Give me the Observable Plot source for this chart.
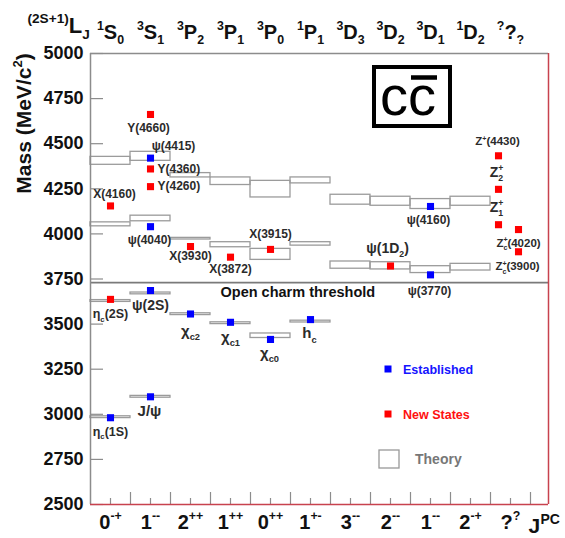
<!DOCTYPE html>
<html><head><meta charset="utf-8">
<script src="https://cdn.jsdelivr.net/npm/d3@7"></script>
<script src="https://cdn.jsdelivr.net/npm/@observablehq/plot@0.6"></script>
<style>
html,body{margin:0;padding:0;background:#fff;overflow:hidden}
</style>
</head><body><div id="chart"></div>
<script>
// ---------- data ----------
const waveLabels = ["^{1}S_{0}","^{3}S_{1}","^{3}P_{2}","^{3}P_{1}","^{3}P_{0}","^{1}P_{1}","^{3}D_{3}","^{3}D_{2}","^{3}D_{1}","^{1}D_{2}","^{?}?_{?}"];
const jpcLabels = ["0^{-+}","1^{--}","2^{++}","1^{++}","0^{++}","1^{+-}","3^{--}","2^{--}","1^{--}","2^{-+}","?^{?}"];
const massTicks = [2500,2750,3000,3250,3500,3750,4000,4250,4500,4750,5000];
const majorTicks = [1,2,3,4,5,6,7,8,9,10,11];
const minorTicks = [0.5,1.5,2.5,3.5,4.5,5.5,6.5,7.5,8.5,9.5,10.5];
const massMin = 2500, massMax = 5000, xMax = 11.45;
const openCharmThreshold = 3730;

const stateNames = ["η_{c}(1S)","η_{c}(2S)","X(4160)","J/ψ","ψ(2S)","ψ(4040)","Y(4260)","Y(4360)","ψ(4415)","Y(4660)","χ_{c2}","X(3930)","χ_{c1}","X(3872)","χ_{c0}","X(3915)","h_{c}","ψ(1D_{2})","ψ(3770)","ψ(4160)","Z^{+}(4430)","Z^{+}_{2}","Z^{+}_{1}","Z^{+}_{c}(4020)","Z^{+}_{c}(3900)"];
const statePos = [0.5,0.5,0.5,1.5,1.5,1.5,1.5,1.5,1.5,1.5,2.5,2.5,3.5,3.5,4.5,4.5,5.5,7.5,8.5,8.5,10.2,10.2,10.2,10.7,10.7];
const stateMass = [2981,3637,4155,3097,3686,4040,4262,4360,4420,4662,3556,3930,3510,3871,3415,3914,3525,3822,3773,4152,4433,4247,4051,4024,3901];
const stateStatus = ["est","new","new","est","est","est","new","new","est","new","est","new","est","new","est","new","est","new","est","est","new","new","new","new","new"];

const theoryCol = [0,0,0,0, 1,1,1,1, 2,2,2, 3,3,3, 4,4,4, 5,5,5, 6,6, 7,7, 8,8, 9,9];
const theoryLo  = [2979,3623,4042,4383, 3092,3665,4070,4405, 3550,3969,4313, 3500,3926,4271, 3423,3856,4202, 3509,3935,4280, 3807,4162, 3803,4156, 3783,4138, 3797,4156];
const theoryHi  = [2989,3633,4064,4427, 3102,3675,4101,4455, 3560,3978,4337, 3510,3954,4313, 3448,3917,4294, 3519,3954,4313, 3847,4217, 3843,4206, 3821,4193, 3834,4206];

// ---------- layout (label offsets in px) ----------
const labelLayout = [
  {dx:0,dy:14,fs:12.5},{dx:0,dy:15,fs:12.5},{dx:4,dy:-12,fs:12},{dx:-1,dy:14,fs:15},{dx:0,dy:15,fs:14},
  {dx:-1,dy:13,fs:12},{dx:7,dy:0,fs:12,a:"start"},{dx:7,dy:0,fs:12,a:"start"},{dx:23,dy:-12,fs:12},{dx:-2,dy:14,fs:12},
  {dx:0,dy:17,fs:15},{dx:0,dy:10,fs:12},{dx:0,dy:15,fs:15},{dx:0,dy:11.5,fs:12},{dx:-1,dy:14,fs:15},
  {dx:0,dy:-15,fs:12},{dx:-1,dy:14,fs:15},{dx:-3,dy:-17,fs:14},{dx:-1,dy:16,fs:12},{dx:-2,dy:14,fs:12},
  {dx:-1,dy:-14,fs:11.5},{dx:-2,dy:-17,fs:14},{dx:-2,dy:-17,fs:14},{dx:0,dy:14,fs:11.5},{dx:-1,dy:15,fs:11.5}
];

const states = stateNames.map((name,i)=>({name, x: statePos[i], mass: stateMass[i], status: stateStatus[i]}));
const theory = theoryCol.map((c,i)=>({c, lo: theoryLo[i], hi: theoryHi[i]}));
const statusColor = {est: "#0000ff", new: "#ff0000"};
const gray = "#8c8c8c", red = "#c8424e";

const labelMarks = states.map((s,i) => Plot.text([s], {
  x: "x", y: "mass", text: "name",
  dx: labelLayout[i].dx, dy: labelLayout[i].dy,
  textAnchor: labelLayout[i].a || "middle", lineAnchor: "middle",
  fontSize: labelLayout[i].fs, fontWeight: "bold", fill: "#2b2b2b"
}));

const plot = Plot.plot({
  width: 565, height: 538,
  marginLeft: 90, marginRight: 17, marginTop: 53, marginBottom: 34,
  style: {fontFamily: "'Liberation Sans', Arial, Helvetica, sans-serif", background: "#fff", overflow: "visible"},
  x: {domain: [0, xMax]},
  y: {domain: [massMin, massMax]},
  marks: [
    Plot.rect(theory, {x1: "c", x2: d => d.c + 1, y1: "lo", y2: "hi", stroke: "#9b9b9b", strokeWidth: 1.3, fill: "none"}),
    Plot.ruleY([openCharmThreshold], {stroke: "#7a7a7a", strokeWidth: 1.6}),
    Plot.text([openCharmThreshold], {y: d => d, frameAnchor: "left", dx: 130, dy: 10, text: () => "Open charm threshold", textAnchor: "start", lineAnchor: "middle", fontSize: 14.5, fontWeight: "bold", fill: "#111"}),
    Plot.axisY(massTicks, {anchor: "left", tickSize: -13, fill: "none", stroke: gray, strokeWidth: 1.2, label: null}),
    Plot.axisY(massTicks, {anchor: "left", tickSize: 0, tickPadding: 7, tickFormat: d3.format("d"), fontSize: 18, fontWeight: "bold", fill: "#111", label: null}),
    Plot.axisX(majorTicks, {anchor: "bottom", tickSize: -12, fill: "none", stroke: gray, strokeWidth: 1.2, label: null}),
    Plot.axisX(minorTicks, {anchor: "bottom", tickSize: -6, fill: "none", stroke: gray, strokeWidth: 1.2, label: null}),
    Plot.dot(states, {x: "x", y: "mass", symbol: "square", r: 4, fill: d => statusColor[d.status], stroke: "none"}),
    ...labelMarks,
    Plot.ruleX([0], {stroke: gray, strokeWidth: 1.5}),
    Plot.ruleY([massMax], {stroke: gray, strokeWidth: 1.5}),
    Plot.ruleX([xMax], {stroke: red, strokeWidth: 1.5}),
    Plot.ruleY([massMin], {stroke: red, strokeWidth: 1.5}),
    Plot.text(waveLabels, {x: (d,i) => i + 0.5, frameAnchor: "top", dy: -15, lineAnchor: "bottom", fontSize: 20, fontWeight: "bold", fill: "#111"}),
    Plot.text(jpcLabels, {x: (d,i) => i + 0.5, frameAnchor: "bottom", dy: 24, lineAnchor: "bottom", fontSize: 20, fontWeight: "bold", fill: "#111"}),
    Plot.text(["^{(2S+1)}L_{J}"], {frameAnchor: "top-left", dx: -63, dy: -21, textAnchor: "start", lineAnchor: "bottom", fontSize: 22, fontWeight: "bold", fill: "#111"}),
    Plot.text(["J"], {frameAnchor: "bottom-right", dx: -20, dy: 28, textAnchor: "start", lineAnchor: "bottom", fontSize: 21, fontWeight: "bold", fill: "#111"}),
    Plot.text(["PC"], {frameAnchor: "bottom-right", dx: -8, dy: 19, textAnchor: "start", lineAnchor: "bottom", fontSize: 14, fontWeight: "bold", fill: "#111"}),
    Plot.text(["Mass (MeV/c^{2})"], {frameAnchor: "top-left", dx: -66, dy: 70, rotate: -90, textAnchor: "middle", lineAnchor: "middle", fontSize: 21, fontWeight: "bold", fill: "#111"})
  ]
});

document.getElementById("chart").append(plot);

// ---------- rich text (super/subscripts) ----------
const NS = "http://www.w3.org/2000/svg";
function parseRich(s) {
  const parts = []; let i = 0;
  while (i < s.length) {
    if ((s[i] === "^" || s[i] === "_") && s[i+1] === "{") {
      const j = s.indexOf("}", i);
      parts.push({t: s.slice(i+2, j), k: s[i]}); i = j + 1;
    } else {
      let j = i;
      while (j < s.length && !((s[j] === "^" || s[j] === "_") && s[j+1] === "{")) j++;
      parts.push({t: s.slice(i, j), k: ""}); i = j;
    }
  }
  return parts;
}
plot.querySelectorAll("text").forEach(el => {
  const s = el.textContent;
  if (!/[\^_]\{/.test(s)) return;
  const fs = parseFloat(getComputedStyle(el).fontSize);
  const parts = parseRich(s);
  el.textContent = "";
  let cur = 0, prev = null, prevNode = null;
  for (const p of parts) {
    const ts = document.createElementNS(NS, "tspan");
    ts.textContent = p.t;
    let target = 0;
    if (p.k === "^") { target = 0.42 * fs; ts.setAttribute("font-size", 0.62 * fs); }
    else if (p.k === "_") { target = -0.28 * fs; ts.setAttribute("font-size", 0.62 * fs); }
    const dy = cur - target;
    if (dy) ts.setAttribute("dy", dy);
    el.appendChild(ts);
    if (p.k === "_" && prev && prev.k === "^") ts.setAttribute("dx", -prevNode.getComputedTextLength());
    cur = target; prev = p; prevNode = ts;
  }
});

// ---------- legend and logo ----------
const svg = d3.select(plot);
const leg = svg.append("g").attr("font-family", "'Liberation Sans', Arial, sans-serif").attr("font-weight", "bold").attr("text-anchor", "start");
leg.append("rect").attr("x", 384.5).attr("y", 365.5).attr("width", 7).attr("height", 7).attr("fill", "#0000ff");
leg.append("text").attr("x", 403).attr("y", 373.5).attr("font-size", 12.5).attr("fill", "#1515ff").text("Established");
leg.append("rect").attr("x", 384.5).attr("y", 410.5).attr("width", 7).attr("height", 7).attr("fill", "#ff0000");
leg.append("text").attr("x", 403).attr("y", 418.5).attr("font-size", 12.5).attr("fill", "#ff1010").text("New States");
leg.append("rect").attr("x", 379).attr("y", 450).attr("width", 20).attr("height", 18).attr("fill", "none").attr("stroke", "#999").attr("stroke-width", 1.3);
leg.append("text").attr("x", 415).attr("y", 464).attr("font-size", 14).attr("fill", "#777").text("Theory");

const logo = svg.append("g");
logo.append("rect").attr("x", 374).attr("y", 67).attr("width", 76).attr("height", 59).attr("fill", "none").attr("stroke", "#000").attr("stroke-width", 4);
logo.append("text").attr("x", 408).attr("y", 115).attr("text-anchor", "middle").attr("font-family", "'Liberation Sans', Arial, sans-serif").attr("font-size", 56).attr("fill", "#000").text("cc");
logo.append("line").attr("x1", 411).attr("x2", 437).attr("y1", 77.5).attr("y2", 77.5).attr("stroke", "#000").attr("stroke-width", 4.5);
</script>
</body></html>
